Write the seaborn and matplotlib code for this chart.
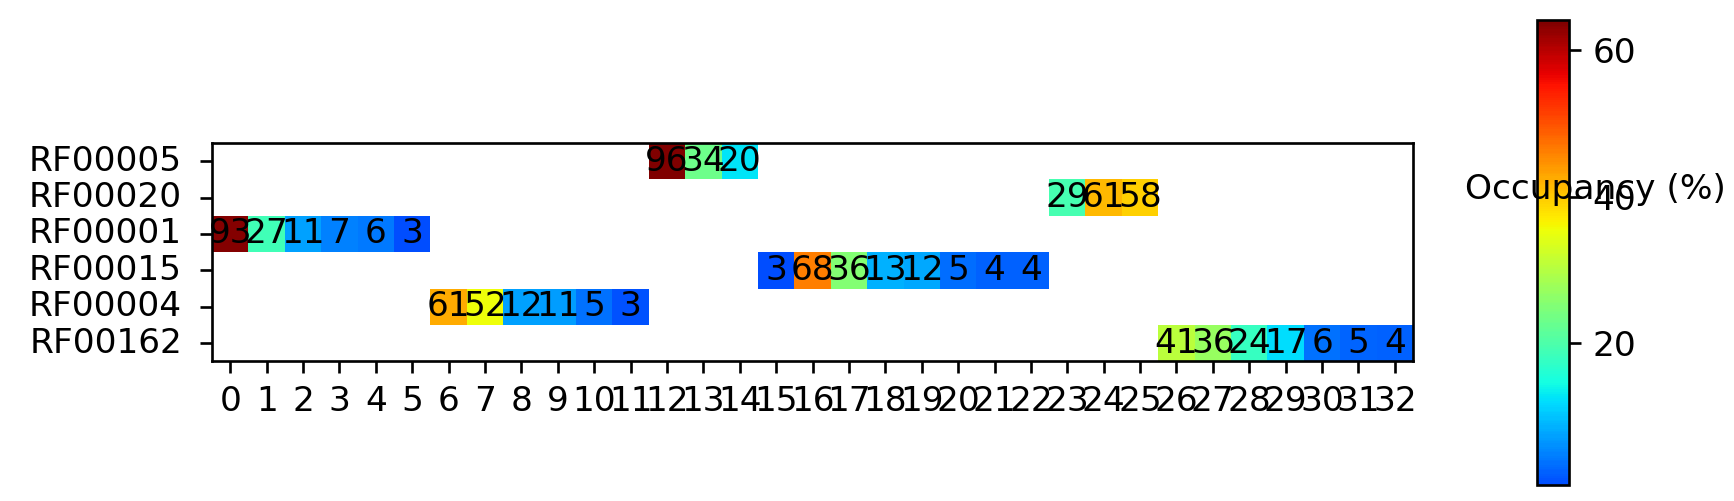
import numpy as np
import pandas as pd
import matplotlib
matplotlib.use('Agg')
import matplotlib.pyplot as plt
from matplotlib.colors import ListedColormap
import seaborn as sns

families = ['RF00005', 'RF00020', 'RF00001', 'RF00015', 'RF00004', 'RF00162']
positions = list(range(33))

# first position of each family's run
starts = [12, 23, 0, 15, 6, 26]
# numbers written in the cells
counts = [[96, 34, 20],
          [29, 61, 58],
          [93, 27, 11, 7, 6, 3],
          [3, 68, 36, 13, 12, 5, 4, 4],
          [61, 52, 12, 11, 5, 3],
          [41, 36, 24, 17, 6, 5, 4]]
# occupancy (%) that drives the colour
occupancy = [[64.1, 23.0, 12.8],
             [19.5, 41.4, 39.5],
             [63.5, 18.6, 7.5, 5.1, 4.3, 0.7],
             [0.9, 46.5, 25.3, 8.6, 8.1, 3.2, 2.4, 2.4],
             [42.7, 35.6, 7.5, 7.1, 3.6, 1.2],
             [30.6, 27.1, 18.0, 12.0, 3.6, 2.9, 2.4]]

occ_df = pd.DataFrame(np.nan, index=families, columns=positions)
cnt_df = pd.DataFrame(np.nan, index=families, columns=positions)
for fam, s, c, o in zip(families, starts, counts, occupancy):
    for i in range(len(c)):
        cnt_df.loc[fam, s + i] = c[i]
        occ_df.loc[fam, s + i] = o[i]

# jet without the dark navy end
cmap = ListedColormap(plt.cm.jet(np.linspace(0.2, 1, 256)))

fs = 10.3
fig = plt.figure(figsize=(7.225, 2.0875), dpi=240)
ax = fig.add_axes([0.1223, 0.2782, 0.6926, 0.437])
cax = fig.add_axes([0.8864, 0.0319, 0.01845, 0.928])

sns.heatmap(occ_df, annot=cnt_df.values, fmt='.0f', cmap=cmap, square=True,
            ax=ax, cbar_ax=cax, xticklabels=positions, yticklabels=families,
            annot_kws={'fontsize': fs, 'color': 'black'})

for s in ax.spines.values():
    s.set_visible(True)
ax.tick_params(labelsize=fs)
ax.tick_params(axis='y', pad=5.5)
plt.setp(ax.get_xticklabels(), rotation=0)
plt.setp(ax.get_yticklabels(), rotation=0)

cb = ax.collections[0].colorbar
cb.outline.set_linewidth(0.8)
cb.set_ticks([20, 40, 60])
cb.ax.tick_params(labelsize=fs)
cb.set_label('Occupancy (%)', rotation=0, fontsize=fs)
cb.ax.yaxis.set_label_coords(1.84, 0.635)
cb.ax.yaxis.label.set_va('center')
cb.ax.yaxis.label.set_ha('center')

fig.savefig('out.png', dpi=240)
